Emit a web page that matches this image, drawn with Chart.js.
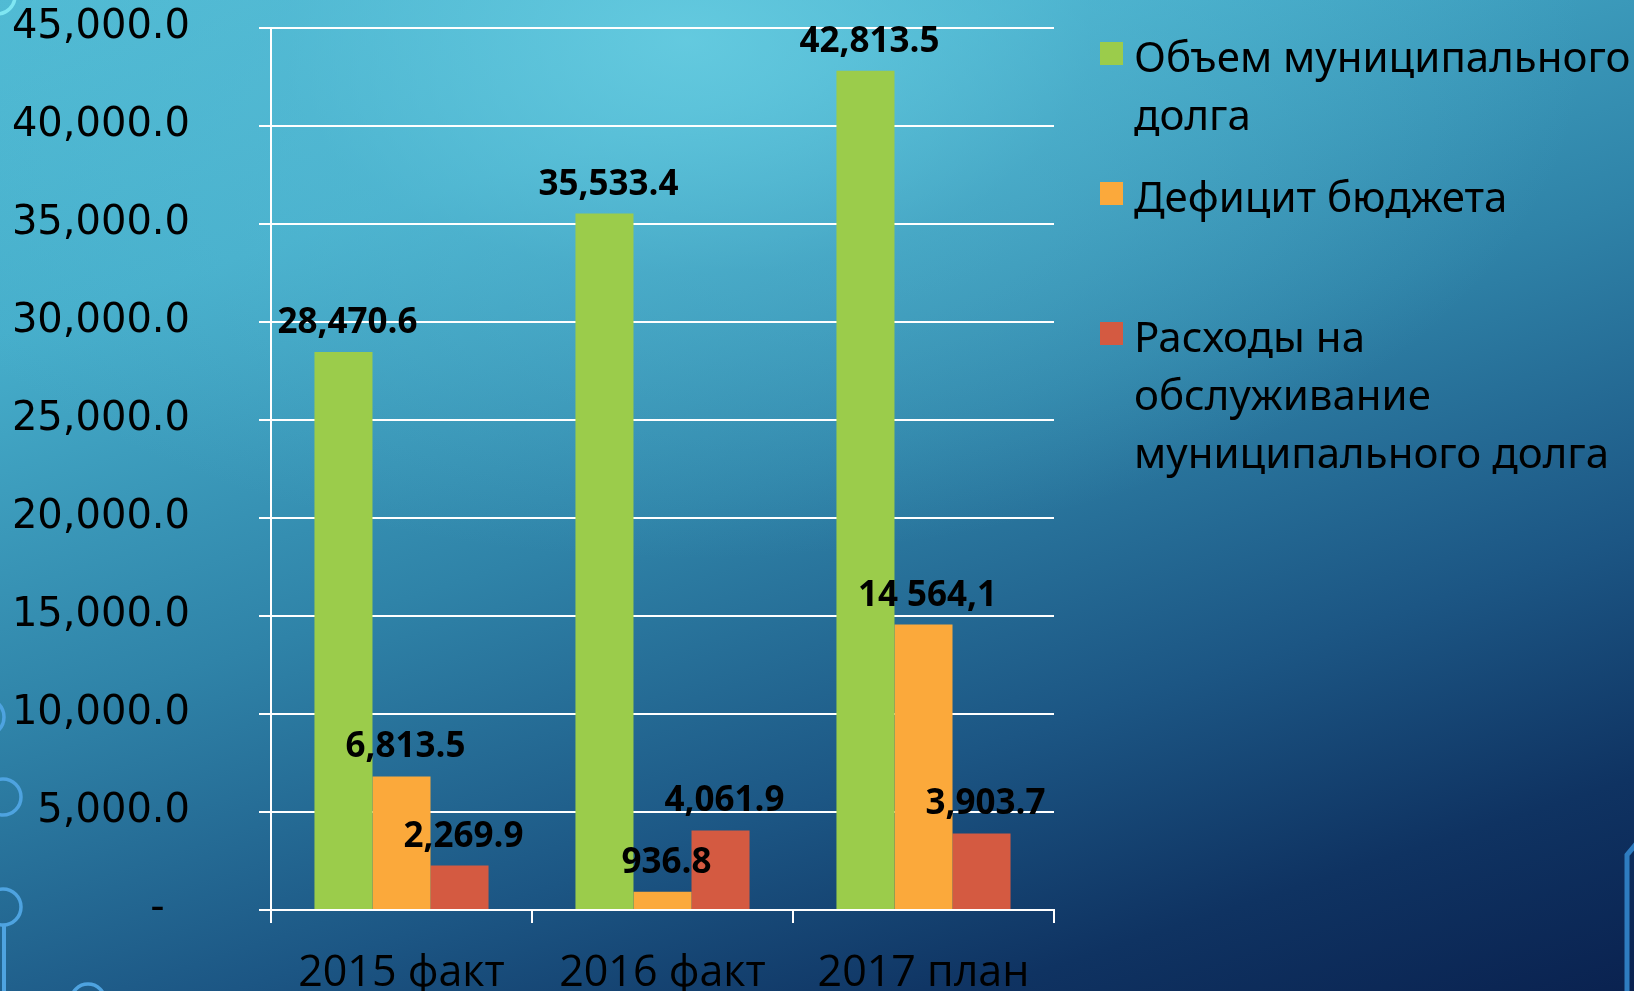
<!DOCTYPE html>
<html lang="ru">
<head>
<meta charset="utf-8">
<title>Муниципальный долг</title>
<script src="https://cdn.jsdelivr.net/npm/chart.js@4/dist/chart.umd.min.js"></script>
<style>
  html, body {
    margin: 0;
    padding: 0;
    width: 1634px;
    height: 991px;
    overflow: hidden;
  }
  body {
    position: relative;
    background:
      radial-gradient(ellipse 900px 520px at 42% 4%, rgba(104, 206, 226, 0.85) 0%, rgba(90, 190, 215, 0.4) 45%, rgba(0, 0, 0, 0) 100%),
      linear-gradient(162deg, #4fbad3 0%, #46aecb 22%, #2f83a8 48%, #1c5684 70%, #0f3362 86%, #0a2250 100%);
  }
  #deco {
    position: absolute;
    left: 0;
    top: 0;
  }
  #chart {
    position: absolute;
    left: 0;
    top: 0;
  }
</style>
</head>
<body>
<svg id="deco" width="1634" height="991">
  <g fill="none" stroke-width="3.5">
    <circle cx="-3" cy="-4" r="18" stroke="#7fe6f2" />
    <circle cx="-15" cy="717" r="19" stroke="#4ea3e0" />
    <circle cx="3" cy="797" r="18" stroke="#4ea3e0" />
    <circle cx="3" cy="907" r="18" stroke="#4ea3e0" />
    <line x1="4" y1="925" x2="4" y2="991" stroke="#4ea3e0" stroke-width="4" />
    <circle cx="88" cy="1001" r="17" stroke="#4ea3e0" />
    <polyline points="1627,991 1627,855 1636,844" stroke="#2e7cc0" stroke-width="5" />
  </g>
</svg>
<canvas id="chart" width="1634" height="991"></canvas>
<script>
const categories = ["2015 факт", "2016 факт", "2017 план"];

const debtVolume = [28470.6, 35533.4, 42813.5];
const budgetDeficit = [6813.5, 936.8, 14564.1];
const debtServiceCost = [2269.9, 4061.9, 3903.7];

// label text as shown on the slide (one of them uses a different number format)
const debtVolumeLabels = ["28,470.6", "35,533.4", "42,813.5"];
const budgetDeficitLabels = ["6,813.5", "936.8", "14 564,1"];
const debtServiceLabels = ["2,269.9", "4,061.9", "3,903.7"];

const seriesNames = [
  ["Объем муниципального", "долга"],
  ["Дефицит бюджета", ""],
  ["Расходы на", "обслуживание", "муниципального долга"],
];

const yMax = 45000;
const yStep = 5000;

function formatTick(v) {
  if (v === 0) return "-  ";
  return v.toLocaleString("en-US", { minimumFractionDigits: 1, maximumFractionDigits: 1 });
}

// bold numbers above each bar
const valueLabels = {
  id: "valueLabels",
  afterDatasetsDraw(chart) {
    const ctx = chart.ctx;
    ctx.save();
    ctx.font = 'bold 35px "Open Sans"';
    ctx.fillStyle = "#000";
    ctx.textAlign = "center";
    ctx.textBaseline = "alphabetic";
    chart.data.datasets.forEach((ds, i) => {
      const meta = chart.getDatasetMeta(i);
      meta.data.forEach((bar, j) => {
        ctx.fillText(ds.valueLabels[j], bar.x + 4, bar.y - 19);
      });
    });
    ctx.restore();
  },
};

// legend on the right, like the slide
const sideLegend = {
  id: "sideLegend",
  afterDraw(chart) {
    const ctx = chart.ctx;
    const x = 1100;
    const lineH = 58;
    const itemGap = 24;
    let baseline = 72;
    ctx.save();
    ctx.font = '42px "Noto Sans"';
    ctx.textAlign = "left";
    ctx.textBaseline = "alphabetic";
    chart.data.datasets.forEach((ds) => {
      ctx.fillStyle = ds.backgroundColor;
      ctx.fillRect(x, baseline - 30, 23, 23);
      ctx.fillStyle = "#000";
      ds.label.forEach((line, k) => {
        ctx.fillText(line, x + 34, baseline + k * lineH);
      });
      baseline += ds.label.length * lineH + itemGap;
    });
    ctx.restore();
  },
};

function draw() {
  const ctx = document.getElementById("chart").getContext("2d");
  new Chart(ctx, {
    type: "bar",
    data: {
      labels: categories,
      datasets: [
        { label: seriesNames[0], data: debtVolume, valueLabels: debtVolumeLabels, backgroundColor: "#9bcc4b" },
        { label: seriesNames[1], data: budgetDeficit, valueLabels: budgetDeficitLabels, backgroundColor: "#fba93b" },
        { label: seriesNames[2], data: debtServiceCost, valueLabels: debtServiceLabels, backgroundColor: "#d45a41" },
      ],
    },
    options: {
      responsive: false,
      animation: false,
      layout: { padding: { top: 28, right: 580, left: 0, bottom: 0 } },
      datasets: { bar: { categoryPercentage: 0.667, barPercentage: 1 } },
      plugins: {
        legend: { display: false },
        tooltip: { enabled: false },
      },
      scales: {
        x: {
          grid: { offset: true, drawOnChartArea: false, color: "#fff", lineWidth: 2, tickLength: 13 },
          border: { color: "#fff", width: 2 },
          ticks: { color: "#000", font: { family: "Open Sans", size: 43 }, padding: 25, maxRotation: 0 },
          afterFit: (s) => {
            s.height = 81;
            s.paddingLeft = 0;
            s.paddingRight = 0;
          },
        },
        y: {
          min: 0,
          max: yMax,
          grid: { color: "#fff", lineWidth: 2, tickLength: 12 },
          border: { color: "#fff", width: 2 },
          ticks: {
            stepSize: yStep,
            padding: 69,
            color: "#000",
            font: { family: "DejaVu Sans", size: 40 },
            callback: formatTick,
          },
          afterFit: (s) => {
            s.width = 271;
            // tick padding would otherwise push the plot area down
            s.paddingTop = 0;
            s.paddingBottom = 0;
          },
        },
      },
    },
    plugins: [valueLabels, sideLegend],
  });
}

Promise.all([
  document.fonts.load('43px "Open Sans"'),
  document.fonts.load('bold 35px "Open Sans"'),
  document.fonts.load('40px "DejaVu Sans"'),
  document.fonts.load('42px "Noto Sans"'),
]).then(draw, draw);
</script>
</body>
</html>
